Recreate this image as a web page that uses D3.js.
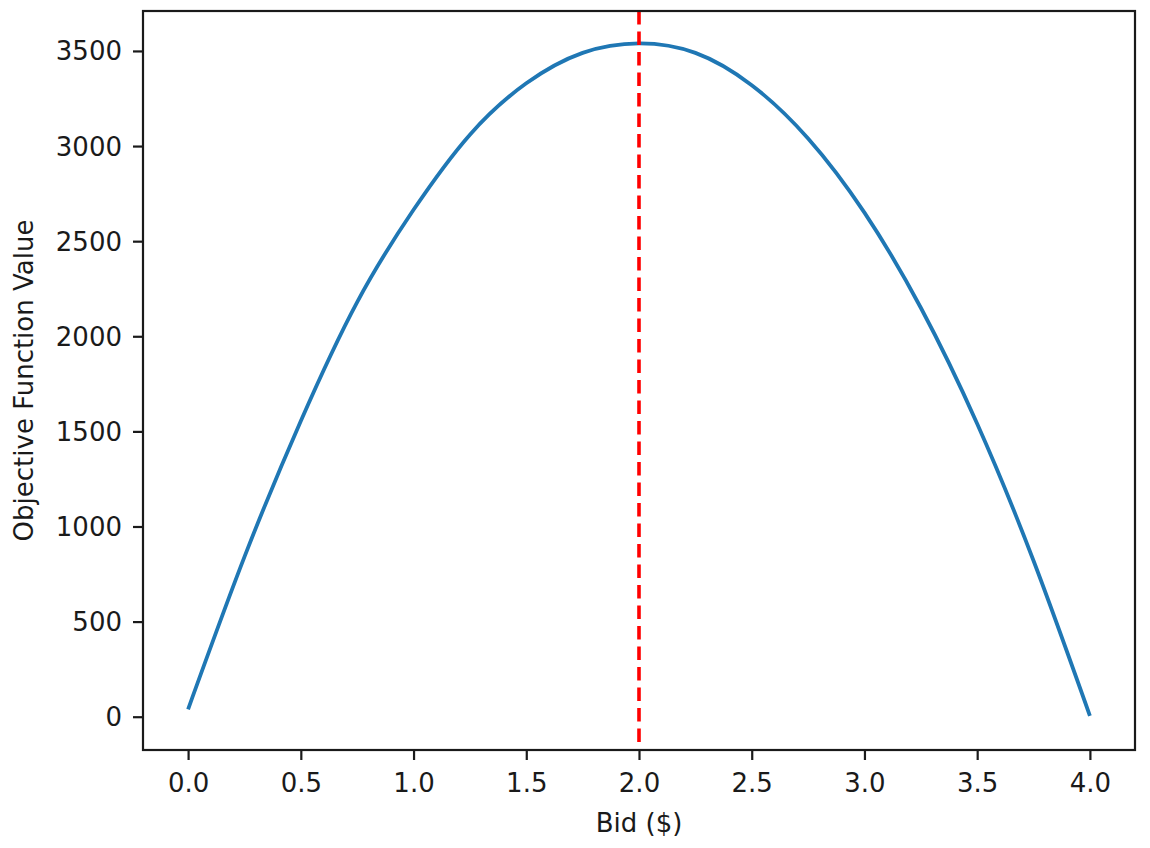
<!DOCTYPE html>
<html>
<head>
<meta charset="utf-8">
<script src="https://cdn.jsdelivr.net/npm/d3@7"></script>
<style>
  html, body { margin: 0; padding: 0; background: #ffffff; overflow: hidden; }
  svg { display: block; width: 100vw; height: 100vh; }
  text { font-family: "DejaVu Sans", sans-serif; fill: #1a1a1a; }
</style>
</head>
<body>
<svg id="chart" viewBox="0 0 1150 848"></svg>
<script>
// Data
const bids = [0.00, 0.25, 0.50, 0.75, 1.00, 1.25, 1.50, 1.75, 2.00, 2.25, 2.50, 2.75, 3.00, 3.25, 3.50, 3.75, 4.00];
const objective = [39, 840, 1555, 2180, 2665, 3060, 3330, 3490, 3540, 3490, 3320, 3040, 2650, 2150, 1540, 820, 5];
const best_bid = 2.0;
const x_ticks = [0.0, 0.5, 1.0, 1.5, 2.0, 2.5, 3.0, 3.5, 4.0];
const y_ticks = [0, 500, 1000, 1500, 2000, 2500, 3000, 3500];
const x_title = "Bid ($)";
const y_title = "Objective Function Value";

// General Variables
let chart = d3.select("#chart");
const margin = { left: 143, right: 15, top: 11, bottom: 98 };
const innerWidth = 1150 - margin.left - margin.right;
const innerHeight = 848 - margin.top - margin.bottom;
const fontSize = 26;

chart.append("rect")
      .attr("width", 1150)
      .attr("height", 848)
      .attr("fill", "#ffffff");

// Scales & Axis
const xScale = d3.scaleLinear()
      .domain([-0.2, 4.2])
      .range([0, innerWidth]);

const yScale = d3.scaleLinear()
      .domain([-175, 3710])
      .range([innerHeight, 0]);

const g = chart.append("g")
      .attr("transform", `translate(${margin.left},${margin.top})`);

const xAxis = d3.axisBottom(xScale)
      .tickValues(x_ticks)
      .tickFormat(d3.format(".1f"))
      .tickSize(10)
      .tickPadding(13);

const yAxis = d3.axisLeft(yScale)
      .tickValues(y_ticks)
      .tickFormat(d3.format("d"))
      .tickSize(10)
      .tickPadding(11);

const xAxisG = g.append("g").call(xAxis)
      .attr("transform", `translate(0,${innerHeight})`);
const yAxisG = g.append("g").call(yAxis);

[xAxisG, yAxisG].forEach(ax => {
      ax.select(".domain").remove();
      ax.selectAll(".tick line")
            .attr("stroke", "#1a1a1a")
            .attr("stroke-width", 2.2);
      ax.selectAll(".tick text")
            .attr("font-size", fontSize + "px")
            .attr("font-family", "DejaVu Sans, sans-serif")
            .attr("fill", "#1a1a1a")
            .attr("dy", null);
});

// baselines set directly instead of em offsets
xAxisG.selectAll(".tick text").attr("y", 42);
yAxisG.selectAll(".tick text").attr("y", 9);

// objective curve
const line = d3.line()
      .x((d, i) => xScale(bids[i]))
      .y(d => yScale(d))
      .curve(d3.curveNatural);

g.append("path")
      .datum(objective)
      .attr("fill", "none")
      .attr("stroke", "#1f77b4")
      .attr("stroke-width", 3.8)
      .attr("stroke-linejoin", "round")
      .attr("stroke-linecap", "butt")
      .attr("d", line);

// best bid marker
g.append("line")
      .attr("x1", xScale(best_bid))
      .attr("x2", xScale(best_bid))
      .attr("y1", 0)
      .attr("y2", innerHeight)
      .attr("stroke", "#ff0000")
      .attr("stroke-width", 3.6)
      .attr("stroke-dasharray", "13.5,7");

// frame
g.append("rect")
      .attr("width", innerWidth)
      .attr("height", innerHeight)
      .attr("fill", "none")
      .attr("stroke", "#1a1a1a")
      .attr("stroke-width", 2.2);

// axis titles
chart.append("text")
      .text(x_title)
      .attr("x", margin.left + innerWidth / 2)
      .attr("y", 832)
      .attr("text-anchor", "middle")
      .attr("font-size", fontSize + "px");

chart.append("text")
      .text(y_title)
      .attr("transform", `translate(33,${margin.top + innerHeight / 2}) rotate(-90)`)
      .attr("text-anchor", "middle")
      .attr("font-size", fontSize + "px");
</script>
</body>
</html>
